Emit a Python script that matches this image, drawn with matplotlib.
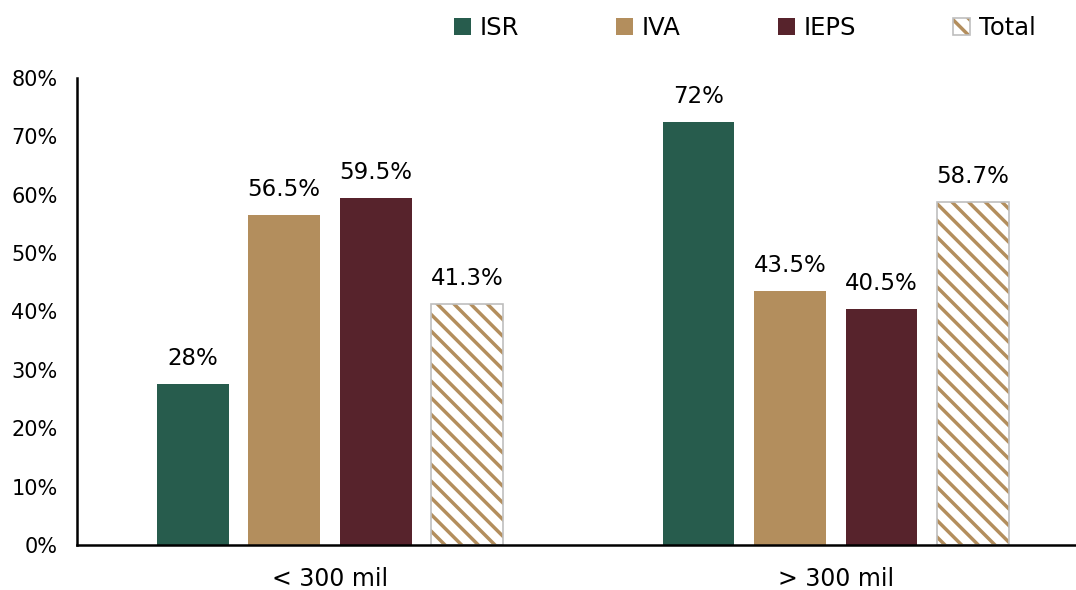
import matplotlib.pyplot as plt
import numpy as np
from matplotlib.patches import Patch

plt.rcParams['font.family'] = ['DejaVu Sans']
plt.rcParams['hatch.linewidth'] = 2.5

categories = ['< 300 mil', '> 300 mil']
series = ['ISR', 'IVA', 'IEPS', 'Total']
isr = [27.6, 72.4]
iva = [56.5, 43.5]
ieps = [59.5, 40.5]
total = [41.3, 58.7]
isr_lbl = ['28%', '72%']
iva_lbl = ['56.5%', '43.5%']
ieps_lbl = ['59.5%', '40.5%']
total_lbl = ['41.3%', '58.7%']

colors = ['#275C4D', '#B38E5D', '#57232C', 'white']
gold = '#B38E5D'
grey = '#BFBFBF'

fig = plt.figure(figsize=(10.76, 5.9), dpi=100)
ax = fig.add_axes([0.0716, 0.0763, 0.9284, 0.7915])

x = np.arange(len(categories))
w = 0.142
step = 0.181
vals = [isr, iva, ieps, total]
lbls = [isr_lbl, iva_lbl, ieps_lbl, total_lbl]
handles = []
for i, (name, v, lb) in enumerate(zip(series, vals, lbls)):
    pos = x + (i - 1.5) * step
    if name == 'Total':
        # hatch drawn in gold, outline in grey on top
        bars = ax.bar(pos, v, w, color='white', edgecolor=gold, hatch='\\\\', linewidth=0)
        ax.bar(pos, v, w, fill=False, edgecolor=grey, linewidth=1.2)
        h = (Patch(facecolor='white', edgecolor=gold, hatch='\\\\', linewidth=0),
             Patch(fill=False, edgecolor=grey, linewidth=1.2))
    else:
        bars = ax.bar(pos, v, w, color=colors[i])
        h = Patch(facecolor=colors[i])
    handles.append(h)
    for b, t in zip(bars, lb):
        ax.text(b.get_x() + b.get_width() / 2, b.get_height() + 2.4, t,
                ha='center', va='bottom', fontsize=16.5)

ax.set_ylim(0, 80)
ax.set_xlim(-0.5, 1.475)
ax.set_yticks(np.arange(0, 81, 10))
ax.set_yticklabels([f'{t}%' for t in range(0, 81, 10)], fontsize=15)
ax.set_xticks(x)
ax.set_xticklabels(categories, fontsize=17)
ax.tick_params(axis='y', length=0, pad=14)
ax.tick_params(axis='x', length=0, pad=16)
ax.spines['top'].set_visible(False)
ax.spines['right'].set_visible(False)
ax.spines['left'].set_linewidth(1.8)
ax.spines['bottom'].set_linewidth(1.8)

fig.legend(handles, series, loc='upper left', bbox_to_anchor=(0.413, 0.99), ncol=4,
           frameon=False, borderaxespad=0, fontsize=17.5, handlelength=0.7,
           handleheight=0.7, handletextpad=0.35, columnspacing=4.0)

fig.savefig('out.png', dpi=100)
